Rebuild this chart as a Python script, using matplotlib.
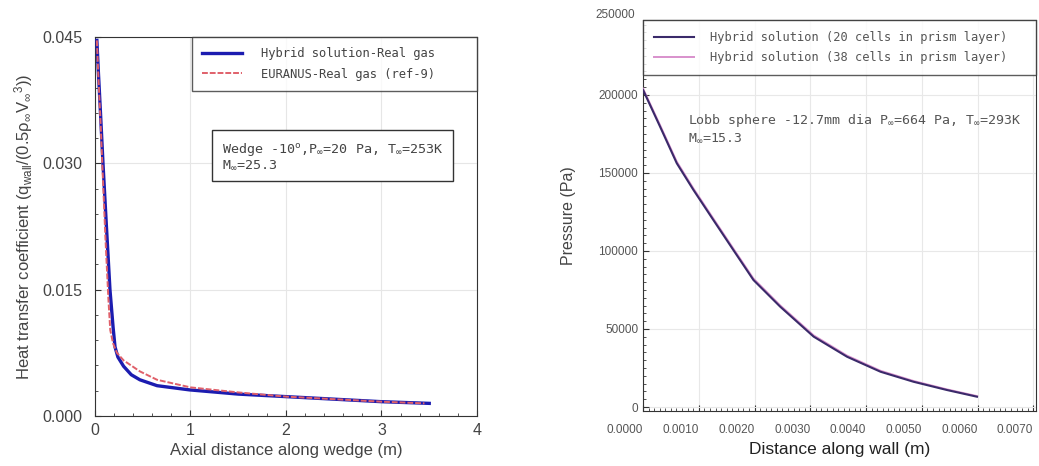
import matplotlib
matplotlib.use('Agg')
from matplotlib import pyplot as plt
from matplotlib.ticker import AutoMinorLocator, FixedLocator

plt.rcParams['font.family'] = ['Liberation Sans', 'DejaVu Sans']
plt.rcParams['mathtext.fontset'] = 'dejavusans'
plt.rcParams['mathtext.default'] = 'regular'

# left panel: heat transfer coefficient along the wedge
hybrid_x = [0.02, 0.035, 0.06, 0.084, 0.12, 0.157, 0.19, 0.21, 0.24, 0.30, 0.38, 0.47, 0.65, 0.99, 1.5, 2.0, 2.5, 3.0, 3.5]
hybrid_y = [0.0446, 0.0410, 0.0355, 0.0300, 0.0225, 0.0150, 0.0105, 0.0082, 0.0070, 0.0059, 0.0049, 0.0043, 0.0036, 0.0031, 0.0026, 0.0023, 0.0020, 0.0017, 0.0015]
euranus_x = [0.02, 0.035, 0.06, 0.08, 0.11, 0.14, 0.16, 0.19, 0.23, 0.30, 0.47, 0.65, 1.0, 1.5, 2.0, 2.5, 3.0, 3.45]
euranus_y = [0.0446, 0.0405, 0.0345, 0.0290, 0.0210, 0.0140, 0.0102, 0.0086, 0.0075, 0.0066, 0.0053, 0.0043, 0.0034, 0.0028, 0.0023, 0.0020, 0.0017, 0.0015]

# right panel: pressure along the Lobb sphere wall
wall_x = [0.0, 0.000305, 0.000605, 0.000904, 0.00126, 0.00162, 0.00198, 0.00246, 0.00306, 0.00366, 0.00426, 0.00485, 0.00545, 0.00599]
p_20cells = [203200, 179700, 156200, 139100, 119900, 100600, 81400, 64300, 45100, 32200, 22600, 16200, 10900, 6600]
p_38cells = [204000, 180600, 157200, 140000, 120800, 101500, 82300, 65100, 45900, 32900, 23200, 16700, 11300, 7000]

left_yticks = [0.000, 0.015, 0.030, 0.045]
right_xticks = [0.0, 0.001, 0.002, 0.003, 0.004, 0.005, 0.006, 0.007]
right_yticks = [0, 50000, 100000, 150000, 200000, 250000]

txt = '#444444'
mono = 'DejaVu Sans Mono'

fig = plt.figure(figsize=(10.39, 4.66), dpi=100)

# ---- left ----
ax1 = fig.add_axes([0.0914, 0.1073, 0.3677, 0.8133])
ax1.plot(hybrid_x, hybrid_y, color='#1c1cb0', lw=2.4, label='Hybrid solution-Real gas', zorder=3)
ax1.plot(euranus_x, euranus_y, color='#e0606a', lw=1.4, ls=(0, (3, 1)), label='EURANUS-Real gas (ref-9)', zorder=4)
ax1.set_xlim(0, 4)
ax1.set_ylim(0, 0.045)
ax1.set_xticks([0, 1, 2, 3, 4])
ax1.set_yticks(left_yticks)
ax1.set_yticklabels([f'{v:.3f}' for v in left_yticks])
ax1.xaxis.set_minor_locator(AutoMinorLocator(5))
ax1.yaxis.set_minor_locator(AutoMinorLocator(5))
ax1.grid(True, color='#e6e6e6', lw=0.8)
ax1.tick_params(which='both', direction='in', colors='#333333', labelcolor=txt, labelsize=11.5)
ax1.tick_params(axis='y', pad=9)
ax1.tick_params(axis='x', pad=5)
ax1.tick_params(which='major', length=4)
ax1.tick_params(which='minor', length=2)
ax1.set_xlabel('Axial distance along wedge (m)', fontsize=12, color=txt, labelpad=4)
ax1.set_ylabel(r'Heat transfer coefficient (q$_{wall}$/(0.5$\rho_\infty$V$_\infty$$^3$))', fontsize=12, color=txt, labelpad=5)
leg1 = ax1.legend(loc='upper left', bbox_to_anchor=(0.254, 1, 0.746, 0), mode='expand', borderaxespad=0,
                  fancybox=False, edgecolor='#333333', prop={'family': mono, 'size': 8.7}, handlelength=3.3,
                  handletextpad=1.6, borderpad=0.85, labelspacing=0.6)
leg1.get_frame().set_linewidth(1.0)
for t in leg1.get_texts():
    t.set_color(txt)
ax1.text(0.332, 0.7256, 'Wedge -10$^o$,P$_\\infty$=20 Pa, T$_\\infty$=253K\nM$_\\infty$=25.3',
         transform=ax1.transAxes, fontsize=9.6, family=mono, color=txt, va='top', ha='left', linespacing=1.1,
         bbox=dict(boxstyle='square,pad=0.7', fc='white', ec='#333333', lw=1.0))
for s in ax1.spines.values():
    s.set_color('#333333')

# ---- right ----
ax2 = fig.add_axes([0.6189, 0.118, 0.3783, 0.8391])
ax2.plot(wall_x, p_38cells, color='#d890cc', lw=1.4, label='Hybrid solution (38 cells in prism layer)', zorder=3)
ax2.plot(wall_x, p_20cells, color='#3a2a6a', lw=1.5, label='Hybrid solution (20 cells in prism layer)', zorder=4)
ax2.set_xlim(0, 0.00705)
ax2.set_ylim(-2560, 248000)
ax2.xaxis.set_major_locator(FixedLocator(right_xticks))
ax2.set_xticklabels([f'{v:.4f}' for v in right_xticks], ha='right')
ax2.set_yticks(right_yticks[:-1])
ax2.set_yticklabels([str(v) for v in right_yticks[:-1]])
ax2.xaxis.set_minor_locator(AutoMinorLocator(10))
ax2.yaxis.set_minor_locator(AutoMinorLocator(10))
ax2.grid(True, color='#e8e8e8', lw=0.8)
ax2.tick_params(which='both', direction='in', colors='#333333', labelcolor='#555555', labelsize=8.5)
ax2.tick_params(axis='x', pad=9)
ax2.tick_params(which='major', length=4)
ax2.tick_params(which='minor', length=2)
# top label sits just above the frame in the original
ax2.text(-0.02, 1.012, str(right_yticks[-1]), transform=ax2.transAxes, ha='right', va='center',
         fontsize=8.5, color='#555555')
ax2.set_xlabel('Distance along wall (m)', fontsize=12.5, color='#222222', labelpad=5)
ax2.set_ylabel('Pressure (Pa)', fontsize=11.5, color='#444444', labelpad=16)
handles, labels = ax2.get_legend_handles_labels()
leg2 = ax2.legend(handles[::-1], labels[::-1], loc='upper left', bbox_to_anchor=(0, 1, 1, 0), mode='expand',
                  borderaxespad=0, fancybox=False, edgecolor='#333333', prop={'family': mono, 'size': 8.65},
                  handlelength=3.3, handletextpad=1.35, borderpad=0.95, labelspacing=0.55)
leg2.get_frame().set_linewidth(1.0)
for t in leg2.get_texts():
    t.set_color('#555555')
ax2.text(0.1145, 0.765, 'Lobb sphere -12.7mm dia P$_\\infty$=664 Pa, T$_\\infty$=293K\nM$_\\infty$=15.3',
         transform=ax2.transAxes, fontsize=9.5, family=mono, color='#555555', va='top', ha='left', linespacing=1.35)
for s in ax2.spines.values():
    s.set_color('#333333')

fig.savefig('out.png', dpi=100)
